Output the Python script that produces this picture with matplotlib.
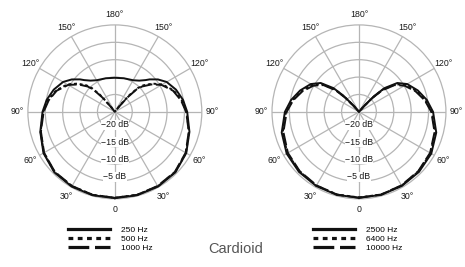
import numpy as np
import matplotlib.pyplot as plt
from matplotlib.lines import Line2D

plt.rcParams['font.family'] = ['Liberation Sans', 'DejaVu Sans']

# angles (deg, 0 = front) where the level was read; patterns are symmetric
angles = [0, 15, 30, 45, 60, 75, 90, 100, 110, 120, 127, 133, 136, 139, 142, 150, 165, 180]

# left: low frequencies (dB)
db_250 = [-0.2, -0.2, -0.2, -0.4, -1.3, -2.8, -4.2, -5.1, -6.3, -7.8, -9.5, -11.3, -12.3, -13.0, -13.6, -14.5, -15.0, -15.2]
db_500 = [-0.3, -0.3, -0.3, -0.5, -1.4, -2.9, -4.4, -5.5, -7.0, -9.2, -11.5, -13.8, -15.5, -18.5, -22.5, -25, -25, -25]
db_1000 = [-0.3, -0.3, -0.4, -0.6, -1.5, -3.0, -4.5, -5.7, -7.2, -9.5, -11.9, -14.3, -16.0, -19.5, -23.5, -25, -25, -25]

# right: high frequencies (dB)
db_2500 = [-0.3, -0.3, -0.4, -0.6, -1.0, -2.0, -3.7, -5.2, -7.0, -9.0, -11.2, -15.0, -18.5, -22.5, -25, -25, -25, -25]
db_6400 = [-0.4, -0.4, -0.5, -0.8, -1.2, -2.3, -4.0, -5.6, -7.4, -9.5, -11.8, -15.5, -19.0, -23.0, -25, -25, -25, -25]
db_10000 = [-0.3, -0.4, -0.6, -0.9, -1.4, -2.5, -4.2, -5.8, -7.7, -9.9, -12.2, -16.0, -19.5, -23.5, -25, -25, -25, -25]

theta_ticks = [0, 30, 60, 90, 120, 150, 180, 210, 240, 270, 300, 330]
theta_labels = ['0', '30°', '60°', '90°', '120°', '150°', '180°', '150°', '120°', '90°', '60°', '30°']
ring_levels = [-20, -15, -10, -5]
ring_labels = ['−20 dB', '−15 dB', '−10 dB', '−5 dB']

left_names = ['250 Hz', '500 Hz', '1000 Hz']
right_names = ['2500 Hz', '6400 Hz', '10000 Hz']

styles = ['-', (0, (1.5, 1.4)), (0, (6.5, 1.8))]
ink = '#111111'
gridc = '#b5b5b5'


def full_circle(vals):
    a = np.array(angles, dtype=float)
    v = np.array(vals, dtype=float)
    th = np.concatenate([a, 360 - a[::-1][1:]])
    r = np.concatenate([v, v[::-1][1:]])
    return np.deg2rad(th), r


def polar_panel(ax, series):
    ax.set_theta_zero_location('S')
    ax.set_ylim(-25, 0)
    ax.set_rgrids(ring_levels, labels=[''] * 4)
    ax.set_thetagrids(theta_ticks, labels=theta_labels)
    ax.tick_params(axis='x', labelsize=6.3, pad=-3, colors='#1a1a1a')
    ax.grid(color=gridc, linewidth=0.9)
    ax.spines['polar'].set_color(gridc)
    ax.spines['polar'].set_linewidth(0.9)
    for lev, lab in zip(ring_levels, ring_labels):
        ax.text(0, lev - 1.3, lab, ha='center', va='center', fontsize=6.3,
                color='#1a1a1a', zorder=5,
                bbox=dict(facecolor='white', edgecolor='none', pad=0.2))
    for vals, ls in zip(series, styles):
        th, r = full_circle(vals)
        ax.plot(th, r, color=ink, lw=1.4, ls=ls, clip_on=False, zorder=4)


fig = plt.figure(figsize=(4.65, 2.67), dpi=100)
ax1 = fig.add_axes([0.060, 0.255, 0.374, 0.652], projection='polar')
ax2 = fig.add_axes([0.585, 0.255, 0.374, 0.652], projection='polar')
polar_panel(ax1, [db_250, db_500, db_1000])
polar_panel(ax2, [db_2500, db_6400, db_10000])

handles = [Line2D([], [], color=ink, lw=2.3, ls=ls) for ls in styles]
for names, x0 in [(left_names, 68), (right_names, 313)]:
    fig.legend(handles, names, loc='upper left', bbox_to_anchor=(x0 / 465, 1 - 226.5 / 267),
               frameon=False, fontsize=6, handlelength=5.0, handletextpad=1.3,
               labelspacing=0.12, borderpad=0, borderaxespad=0)

fig.text(236 / 465, 1 - 249 / 267, 'Cardioid', ha='center', va='center',
         fontsize=10.5, color='#555555')

fig.savefig('out.png', dpi=100)
